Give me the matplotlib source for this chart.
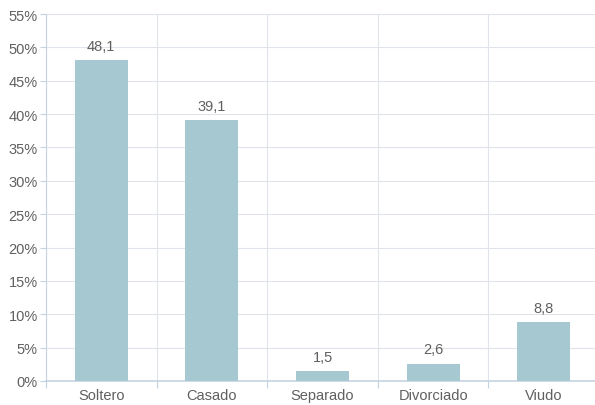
import numpy as np
import matplotlib
matplotlib.use('Agg')
import matplotlib.pyplot as plt
from matplotlib.ticker import FixedLocator, FixedFormatter

categories = ['Soltero', 'Casado', 'Separado', 'Divorciado', 'Viudo']
values = [48.1, 39.1, 1.5, 2.6, 8.8]
y_ticks = [0, 5, 10, 15, 20, 25, 30, 35, 40, 45, 50, 55]

bar_color = '#a5c8d1'
text_color = '#606060'
grid_color = '#dfe4ea'
axis_color = '#c5d3e0'

plt.rcParams['font.family'] = ['Liberation Sans', 'DejaVu Sans']

fig = plt.figure(figsize=(5.95, 4.06), dpi=100)
ax = fig.add_axes([46 / 595, 24 / 406, 553 / 595, 367 / 406])

x = np.arange(len(categories)) + 0.5
ax.bar(x, values, width=0.48, color=bar_color, zorder=3)
for xi, v in zip(x, values):
    ax.text(xi, v + 1.1, f'{v:.1f}'.replace('.', ','), ha='center', va='bottom',
            fontsize=10.5, color=text_color, zorder=4)

ax.set_xlim(0, len(categories))
ax.set_ylim(0, 55)

# category boundaries as major ticks / grid, labels at centres
ax.xaxis.set_major_locator(FixedLocator(np.arange(len(categories) + 1)))
ax.xaxis.set_major_formatter(FixedFormatter([''] * (len(categories) + 1)))
ax.xaxis.set_minor_locator(FixedLocator(x))
ax.xaxis.set_minor_formatter(FixedFormatter(categories))
ax.tick_params(axis='x', which='major', length=5, color=axis_color, direction='out')
ax.tick_params(axis='x', which='minor', length=0, pad=5, labelsize=10.5, labelcolor=text_color)

ax.set_yticks(y_ticks)
ax.set_yticklabels([f'{t}%' for t in y_ticks])
ax.tick_params(axis='y', length=4, color=axis_color, labelsize=10.5, labelcolor=text_color, pad=2)

ax.grid(True, which='major', color=grid_color, linewidth=0.8, zorder=0)
for side in ['top', 'right']:
    ax.spines[side].set_visible(False)
ax.spines['left'].set_color(axis_color)
ax.spines['bottom'].set_color(axis_color)
ax.spines['bottom'].set_linewidth(1.2)

fig.savefig('out.png', dpi=100)
